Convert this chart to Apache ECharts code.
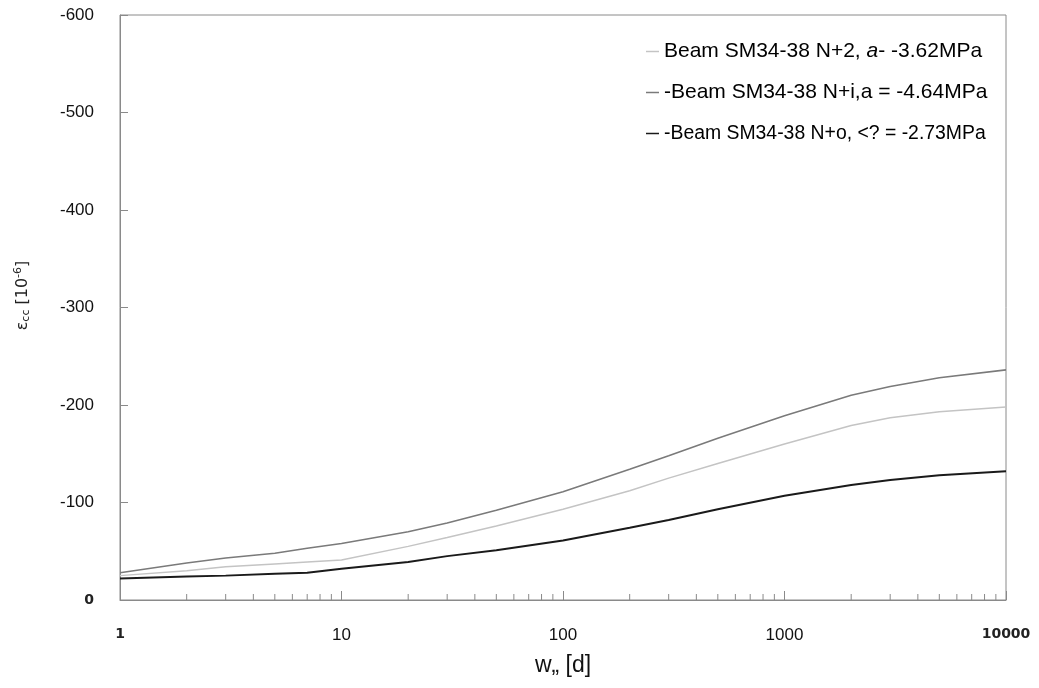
<!DOCTYPE html>
<html>
<head>
<meta charset="utf-8">
<script src="https://cdn.jsdelivr.net/npm/echarts@6/dist/echarts.min.js"></script>
<style>
  html, body { margin: 0; padding: 0; background: #fff; }
  #chart { width: 1039px; height: 688px; }
</style>
</head>
<body>
<div id="chart"></div>
<script>
// Age of concrete in days (log axis)
const days = [1, 2, 3, 5, 7, 10, 20, 30, 50, 100, 200, 300, 500, 1000, 2000, 3000, 5000, 10000];

// Creep strain of concrete, 10^-6
const beamN2 = [-25, -30, -34, -37, -39, -41, -55, -64, -76, -93, -112, -125, -140, -160, -179, -187, -193, -198];
const beamN1 = [-28, -38, -43, -48, -53, -58, -70, -79, -92, -111, -134, -148, -166, -189, -210, -219, -228, -236];
const beamN0 = [-22, -24, -25, -27, -28, -32, -39, -45, -51, -61, -74, -82, -93, -107, -118, -123, -128, -132];

const seriesNames = [
  'Beam SM34-38 N+2, a- -3.62MPa',
  '-Beam SM34-38 N+i,a = -4.64MPa',
  '-Beam SM34-38 N+o, <? = -2.73MPa'
];
const legendLabels = [
  'Beam SM34-38 N+2, {i|a}- -3.62MPa',
  '-Beam SM34-38 N+i,a = -4.64MPa',
  '{n|-Beam SM34-38 N+o, <? = -2.73MPa}'
];

// Minor ticks of the log axis (2..9 of every decade)
const minorTickDays = [];
[1, 10, 100, 1000].forEach(function (d) {
  for (let k = 2; k <= 9; k++) minorTickDays.push(d * k);
});

const chart = echarts.init(document.getElementById('chart'), null, { renderer: 'canvas' });

function pairs(ys) { return days.map(function (d, i) { return [d, ys[i]]; }); }

const axisGrey = '#8a8a8a';
const tickFont = 'Liberation Sans';
const endStyle = { fontFamily: 'DejaVu Sans', fontWeight: 'bold', fontSize: 14, color: '#222' };

chart.setOption({
  animation: false,
  backgroundColor: '#ffffff',
  grid: {
    left: 120, right: 33, top: 15, bottom: 88,
    show: true, borderColor: axisGrey, borderWidth: 1, backgroundColor: 'transparent'
  },
  legend: {
    orient: 'vertical',
    left: 641, top: 36,
    itemGap: 20,
    itemWidth: 13, itemHeight: 1.5,
    icon: 'rect',
    data: seriesNames,
    formatter: function (name) { return legendLabels[seriesNames.indexOf(name)]; },
    textStyle: {
      fontFamily: 'Liberation Sans', fontSize: 21, color: '#000', lineHeight: 21,
      rich: {
        i: { fontFamily: 'Liberation Sans', fontSize: 21, fontStyle: 'italic', color: '#000' },
        n: { fontFamily: 'Liberation Sans', fontSize: 19.4, color: '#000', lineHeight: 21 }
      }
    }
  },
  xAxis: {
    type: 'log', logBase: 10, min: 1, max: 10000,
    name: 'w„ [d]', nameLocation: 'middle', nameGap: 54,
    nameTextStyle: { fontFamily: 'Liberation Sans', fontSize: 23, color: '#111' },
    axisLine: { show: true, lineStyle: { color: axisGrey, width: 1 } },
    axisTick: { show: true, inside: true, length: 9, lineStyle: { color: axisGrey } },
    axisLabel: {
      fontFamily: tickFont, fontSize: 17, color: '#111', margin: 27,
      formatter: function (v) {
        const s = String(Math.round(v));
        return (v === 1 || v === 10000) ? '{e|' + s + '}' : s;
      },
      rich: { e: endStyle }
    },
    splitLine: { show: false }
  },
  yAxis: {
    type: 'value', inverse: true, min: -600, max: 0, interval: 100,
    name: 'ε{sub|cc} [10{sup|-6}]', nameLocation: 'middle', nameGap: 88, nameRotate: 90,
    nameTextStyle: {
      fontFamily: 'DejaVu Sans', fontSize: 16, color: '#222', padding: [0, 0, 0, 24],
      rich: {
        sub: { fontFamily: 'DejaVu Sans', fontSize: 11, color: '#222', padding: [8, 0, 0, 0] },
        sup: { fontFamily: 'DejaVu Sans', fontSize: 11, color: '#222', padding: [0, 0, 8, 0] }
      }
    },
    axisLine: { show: true, lineStyle: { color: axisGrey, width: 1 } },
    axisTick: { show: true, inside: true, length: 8, lineStyle: { color: axisGrey } },
    axisLabel: {
      fontFamily: tickFont, fontSize: 17, color: '#111', margin: 26,
      formatter: function (v) { return v === 0 ? '{e|0}' : String(v); },
      rich: { e: endStyle }
    },
    splitLine: { show: false }
  },
  series: [
    {
      name: seriesNames[0], type: 'line', data: pairs(beamN2),
      showSymbol: false, symbol: 'none', smooth: false,
      lineStyle: { color: '#c4c4c4', width: 1.5 }, itemStyle: { color: '#c4c4c4' }
    },
    {
      name: seriesNames[1], type: 'line', data: pairs(beamN1),
      showSymbol: false, symbol: 'none', smooth: false,
      lineStyle: { color: '#7a7a7a', width: 1.6 }, itemStyle: { color: '#7a7a7a' }
    },
    {
      name: seriesNames[2], type: 'line', data: pairs(beamN0),
      showSymbol: false, symbol: 'none', smooth: false,
      lineStyle: { color: '#1a1a1a', width: 2 }, itemStyle: { color: '#1a1a1a' }
    },
    {
      name: 'minorTicks', type: 'custom', silent: true,
      data: minorTickDays.map(function (d) { return [d, 0]; }),
      renderItem: function (params, api) {
        const p = api.coord([api.value(0), api.value(1)]);
        return {
          type: 'line',
          shape: { x1: p[0], y1: p[1], x2: p[0], y2: p[1] - 6 },
          style: { stroke: axisGrey, lineWidth: 1 }
        };
      }
    }
  ]
});
</script>
</body>
</html>
